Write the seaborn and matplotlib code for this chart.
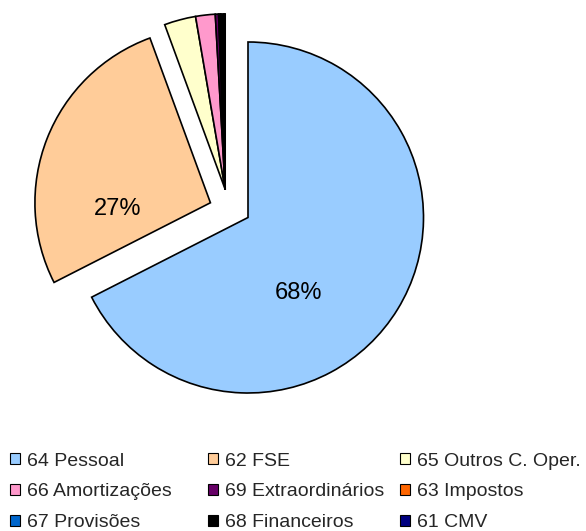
import matplotlib

matplotlib.use("Agg")
import matplotlib.pyplot as plt
import seaborn as sns
from matplotlib.patches import Patch

sns.set_theme(style="white", context="notebook")
plt.rcParams["font.family"] = ["Liberation Sans", "DejaVu Sans"]

categories = [
    "64 Pessoal",
    "62 FSE",
    "65 Outros C. Oper.",
    "66 Amortizações",
    "69 Extraordinários",
    "63 Impostos",
    "67 Provisões",
    "68 Financeiros",
    "61 CMV",
]
shares = [67.5, 26.9, 2.9, 1.8, 0.3, 0.15, 0.05, 0.3, 0.1]
colors = ["#99CCFF", "#FFCC99", "#FFFFCC", "#FF99CC", "#660066",
          "#FF6600", "#0066CC", "#000000", "#000080"]
explode = [0.0, 0.23, 0, 0, 0, 0, 0, 0, 0]
# Excel-style shift of the small exploded slices (in pie radius units)
small_shift = (-0.13, 0.16)
label_pos = {"64 Pessoal": (0.29, -0.43), "62 FSE": (-0.745, 0.05)}

figure = plt.figure(figsize=(5.86, 5.31), dpi=100)
cx, cy, r = 248, 217.5, 175.5
axis = figure.add_axes([(cx - r) / 586, (531 - cy - r) / 531, 2 * r / 586, 2 * r / 531])

wedges, texts = axis.pie(
    shares,
    colors=colors,
    explode=explode,
    startangle=90,
    counterclock=False,
    wedgeprops={"edgecolor": "black", "linewidth": 1.2},
    radius=1.0,
)
for name, wedge, share in zip(categories, wedges, shares):
    wedge.set_clip_on(False)
    if share < 5:
        wedge.set_center(small_shift)
    if name in label_pos:
        axis.text(*label_pos[name], f"{share:.0f}%", fontsize=17,
                  ha="center", va="center", color="black")
axis.set_xlim(-1, 1)
axis.set_ylim(-1, 1)
axis.set_aspect("equal")
axis.axis("off")

handles = [Patch(facecolor=c, edgecolor="black", linewidth=0.8) for c in colors]
column_x = [10, 208, 400]
for col in range(3):
    idx = [col, col + 3, col + 6]
    figure.legend(
        [handles[i] for i in idx],
        [categories[i] for i in idx],
        loc="upper left",
        bbox_to_anchor=(column_x[col] / 586, 1 - 452.5 / 531),
        frameon=False,
        fontsize=14,
        handlelength=0.52,
        handleheight=0.52,
        handletextpad=0.35,
        labelspacing=0.71,
        borderpad=0.0,
        borderaxespad=0.0,
    )

figure.savefig("out.png", dpi=100, facecolor="white")
